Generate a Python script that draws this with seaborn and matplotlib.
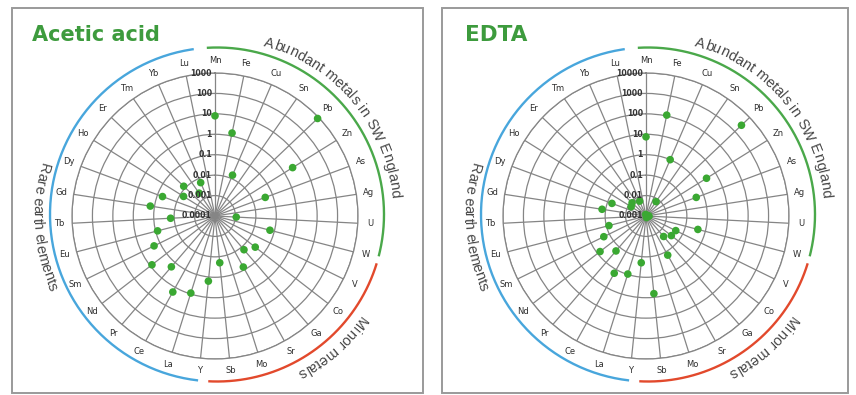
import numpy as np
import pandas as pd
import matplotlib
matplotlib.use("Agg")
import matplotlib.pyplot as plt
import seaborn as sns
from matplotlib.lines import Line2D
from matplotlib.patches import Rectangle
from matplotlib.transforms import IdentityTransform, offset_copy
from matplotlib.font_manager import FontProperties

# ---- data -------------------------------------------------------------
elements = ["Mn", "Fe", "Cu", "Sn", "Pb", "Zn", "As", "Ag", "U", "W",
            "V", "Co", "Ga", "Sr", "Mo", "Sb",
            "Y", "La", "Ce", "Pr", "Nd", "Sm", "Eu", "Tb", "Gd", "Dy",
            "Ho", "Er", "Tm", "Yb", "Lu"]

nan = np.nan
acetic_acid = [8, 1.4, 0.015, nan, 850, 3.0, 0.042, nan, 0.0011, 0.06,
               nan, 0.031, 0.015, 0.072, nan, 0.02,
               0.16, 0.9, 1.8, 0.19, 0.8, 0.21, 0.08, 0.015, 0.16, 0.055,
               0.0065, 0.013, 0.0023, 0.006, nan]

edta = [7.5, 110, 1.0, 0.0072, 2800, 3.1, 0.42, 0.0013, 0.0014, 0.42,
        0.042, 0.037, 0.021, 0.155, 0.0012, 6.6,
        0.2, 0.95, 1.6, 0.18, 0.7, 0.2, 0.075, nan, 0.15, 0.06,
        0.0072, 0.0087, nan, 0.0062, 0.0012]

acetic_ticks = ["0.0001", "0.001", "0.01", "0.1", "1", "10", "100", "1000"]
edta_ticks = ["0.001", "0.01", "0.1", "1", "10", "100", "1000", "10000"]

group_names = ["Abundant metals in SW England", "Minor metals", "Rare earth elements"]

# ---- styling ----------------------------------------------------------
sns.set_theme(style="white")
plt.rcParams["font.family"] = ["DejaVu Sans"]

GRID = "#858585"
DOT = "#3aa832"
TITLE = "#3d9b3d"
ARC_COLORS = ["#4aa84a", "#e2492c", "#48a6dc"]
ARC_SPANS = [(-3.5, 104.5), (107.0, 183.0), (186.5, 352.0)]
TEXT_C = "#484848"

W, H = 856, 395
fig = plt.figure(figsize=(W / 100, H / 100), dpi=100)
fig.patch.set_facecolor("white")

theta = np.linspace(0, 2 * np.pi, len(elements), endpoint=False)


def arc_text(center, text, mid_deg, radius, size, color, outward=True):
    """Write text letter by letter along a circle around `center` (pixels)."""
    renderer = fig.canvas.get_renderer()
    fp = FontProperties(family="Liberation Sans", size=size)
    bar, _, _ = renderer.get_text_width_height_descent("|", fp, ismath=False)

    def width(s):
        if not s:
            return 0.0
        w, _, _ = renderer.get_text_width_height_descent(s + "|", fp, ismath=False)
        return w - bar

    total = width(text)
    cx, cy = center
    sign = 1 if outward else -1
    start = np.radians(mid_deg) - sign * total / 2 / radius
    for i, ch in enumerate(text):
        if ch == " ":
            continue
        off = width(text[:i])
        w = width(text[:i + 1]) - off
        phi = start + sign * (off + w / 2) / radius
        x = cx + radius * np.sin(phi)
        y = cy + radius * np.cos(phi)
        rot = -np.degrees(phi) if outward else 180 - np.degrees(phi)
        fig.text(x, y, ch, transform=IdentityTransform(), fontproperties=fp,
                 color=color, rotation=rot, rotation_mode="anchor",
                 ha="center", va="baseline")


def radar(cx_px, values, tick_labels, title, title_x, title_size):
    R = 143
    cy_px = 216
    rect = [(cx_px - R) / W, (H - cy_px - R) / H, 2 * R / W, 2 * R / H]
    ax = fig.add_axes(rect, projection="polar")
    ax.set_facecolor("white")
    ax.set_theta_zero_location("N")
    ax.set_theta_direction(-1)
    ax.set_rscale("log")

    tick_vals = [float(t) for t in tick_labels]
    df = pd.DataFrame({"theta": theta, "value": values})
    sns.scatterplot(data=df, x="theta", y="value", ax=ax, color=DOT, s=30,
                    edgecolor="none", zorder=4, clip_on=False)
    ax.set_rlim(tick_vals[0], tick_vals[-1])
    ax.set_xlabel("")
    ax.set_ylabel("")

    ax.set_xticks(theta)
    ax.set_xticklabels(elements, fontsize=6, color="#2e2e2e")
    ax.tick_params(axis="x", pad=-4)
    ax.set_yticks(tick_vals[1:])
    ax.set_yticklabels([])
    ax.grid(True, color=GRID, lw=0.9)
    ax.spines["polar"].set_color(GRID)
    ax.spines["polar"].set_linewidth(0.9)

    tr = offset_copy(ax.transData, fig=fig, x=-3, y=0, units="dots")
    for v, lab in zip(tick_vals, tick_labels):
        ax.text(0, v, lab, transform=tr, ha="right", va="center",
                fontsize=5.6, fontweight="bold", color="#333333", zorder=5)

    # group arcs around the chart
    cx, cy = ax.transAxes.transform((0.5, 0.5))
    acx, acy = cx + 2, cy + 1.5
    for (a0, a1), col in zip(ARC_SPANS, ARC_COLORS):
        phi = np.radians(np.linspace(a0, a1, 200))
        fig.add_artist(Line2D(acx + 167 * np.sin(phi), acy + 167 * np.cos(phi),
                              transform=IdentityTransform(), color=col, lw=1.7,
                              solid_capstyle="butt"))

    arc_text((acx, acy), group_names[0], 50, 175, 10.5, TEXT_C, outward=True)
    arc_text((acx, acy), group_names[1], 139, 175, 10.5, TEXT_C, outward=True)
    arc_text((acx, acy), group_names[2], 266, 184, 10.5, TEXT_C, outward=False)

    fig.text(title_x / W, 1 - 35 / H, title, fontsize=title_size, fontweight="bold",
             color=TITLE, va="center", ha="left")
    return ax


radar(215, acetic_acid, acetic_ticks, "Acetic acid", 32, 15)
radar(646, edta, edta_ticks, "EDTA", 465, 15.5)

# panel frames
for x0, x1 in [(12, 423), (442, 848)]:
    fig.add_artist(Rectangle((x0, H - 393), x1 - x0, 385,
                             transform=IdentityTransform(), fill=False,
                             ec="#9a9a9a", lw=1.4))

fig.savefig("out.png", dpi=100, facecolor="white")
